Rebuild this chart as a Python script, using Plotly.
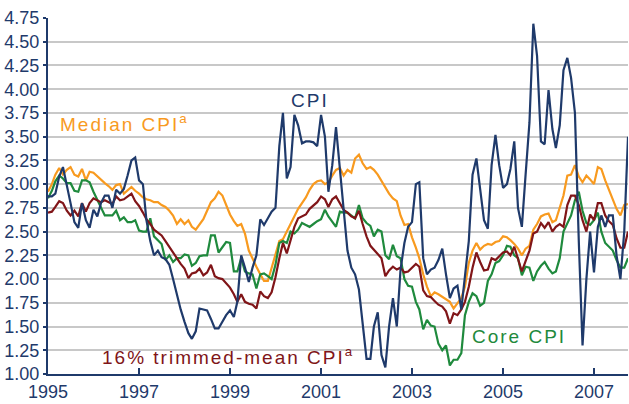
import pandas as pd
import plotly.graph_objects as go

# monthly values, Jan 1995 - Oct 2007 (12-month percent change)
months = pd.date_range('1995-01-01', '2007-10-01', freq='MS')

cpi = [2.87, 2.87, 2.90, 3.08, 3.18, 3.00, 2.80, 2.60, 2.54, 2.80, 2.62, 2.54,
       2.73, 2.66, 2.80, 2.88, 2.88, 2.75, 2.94, 2.90, 2.95, 3.09, 3.25, 3.28,
       3.04, 3.00, 2.62, 2.40, 2.25, 2.30, 2.23, 2.21, 2.15, 2.00, 1.82, 1.68,
       1.55, 1.43, 1.37, 1.45, 1.69, 1.68, 1.67, 1.58, 1.48, 1.48, 1.55, 1.62,
       1.67, 1.60, 1.76, 2.25, 2.12, 1.97, 2.12, 2.25, 2.63, 2.57, 2.64, 2.71,
       2.75, 3.40, 3.75, 3.06, 3.18, 3.73, 3.62, 3.43, 3.45, 3.45, 3.44, 3.40,
       3.73, 3.50, 2.92, 3.20, 3.60, 3.15, 2.68, 2.30, 2.12, 2.05, 1.89, 1.50,
       1.16, 1.16, 1.50, 1.65, 1.20, 1.07, 1.50, 1.80, 1.50, 2.10, 2.38, 2.55,
       2.60, 3.00, 3.02, 2.22, 2.05, 2.10, 2.12, 2.20, 2.32, 2.05, 1.80, 1.90,
       1.93, 1.68, 2.00, 2.40, 3.10, 3.27, 2.95, 2.62, 2.53, 3.20, 3.52, 3.20,
       2.96, 3.00, 3.16, 3.45, 2.75, 2.55, 3.10, 3.65, 4.69, 4.35, 3.45, 3.42,
       3.99, 3.58, 3.38, 3.62, 4.20, 4.33, 4.12, 3.75, 2.40, 1.30, 2.00, 2.50,
       2.07, 2.55, 2.67, 2.55, 2.67, 2.67, 2.25, 2.00, 2.50, 3.50]

median_cpi = [2.92, 3.00, 3.10, 3.17, 3.10, 3.15, 3.18, 3.10, 3.08, 3.16, 3.04, 3.13,
              3.12, 3.08, 3.05, 3.01, 2.98, 2.94, 2.99, 3.00, 2.90, 2.93, 2.97, 2.93,
              2.90, 2.86, 2.84, 2.83, 2.81, 2.81, 2.78, 2.76, 2.72, 2.67, 2.58, 2.63,
              2.58, 2.62, 2.55, 2.52, 2.57, 2.63, 2.72, 2.81, 2.85, 2.92, 2.88, 2.78,
              2.68, 2.61, 2.56, 2.58, 2.48, 2.30, 2.21, 2.13, 2.05, 1.98, 1.98, 2.12,
              2.27, 2.40, 2.42, 2.50, 2.59, 2.67, 2.74, 2.80, 2.86, 2.94, 3.00, 3.03,
              3.04, 3.00, 3.02, 3.09, 3.15, 3.17, 3.09, 3.15, 3.12, 3.27, 3.31, 3.22,
              3.16, 3.18, 3.15, 3.10, 3.03, 2.96, 2.90, 2.85, 2.82, 2.67, 2.57, 2.58,
              2.44, 2.33, 2.22, 2.05, 1.92, 1.82, 1.86, 1.84, 1.81, 1.79, 1.76, 1.69,
              1.74, 1.80, 1.92, 2.17, 2.30, 2.38, 2.31, 2.35, 2.37, 2.36, 2.39, 2.40,
              2.45, 2.44, 2.41, 2.37, 2.32, 2.25, 2.32, 2.35, 2.52, 2.58, 2.66, 2.68,
              2.69, 2.60, 2.62, 2.75, 2.88, 3.09, 3.10, 3.20, 3.08, 3.02, 3.09, 3.05,
              3.00, 3.18, 3.16, 3.04, 2.94, 2.82, 2.74, 2.67, 2.78, 2.79]

trimmed_mean = [2.70, 2.71, 2.76, 2.82, 2.80, 2.72, 2.67, 2.72, 2.66, 2.80, 2.71, 2.80,
                2.85, 2.83, 2.81, 2.83, 2.81, 2.79, 2.87, 2.83, 2.84, 2.87, 2.90, 2.82,
                2.77, 2.70, 2.63, 2.58, 2.52, 2.49, 2.46, 2.40, 2.34, 2.28, 2.21, 2.16,
                2.11, 2.01, 2.06, 2.07, 2.11, 2.04, 2.07, 2.15, 2.03, 2.01, 2.00, 1.96,
                1.91, 1.84, 1.76, 1.84, 1.76, 1.74, 1.73, 1.69, 1.87, 1.82, 1.80, 1.86,
                2.02, 2.22, 2.38, 2.27, 2.42, 2.55, 2.64, 2.66, 2.68, 2.74, 2.78, 2.81,
                2.87, 2.84, 2.76, 2.84, 2.87, 2.80, 2.73, 2.70, 2.66, 2.64, 2.72, 2.58,
                2.45, 2.35, 2.31, 2.27, 2.22, 2.03, 2.09, 2.13, 2.10, 2.12, 2.07, 2.08,
                2.12, 2.16, 2.13, 1.88, 1.82, 1.81, 1.77, 1.73, 1.71, 1.66, 1.53, 1.64,
                1.62, 1.68, 1.76, 1.92, 2.12, 2.28, 2.18, 2.09, 2.10, 2.22, 2.20, 2.24,
                2.28, 2.29, 2.25, 2.34, 2.22, 2.08, 2.19, 2.30, 2.48, 2.50, 2.59, 2.54,
                2.60, 2.50, 2.55, 2.58, 2.55, 2.78, 2.88, 2.88, 2.78, 2.62, 2.50, 2.68,
                2.62, 2.80, 2.80, 2.67, 2.61, 2.57, 2.43, 2.33, 2.33, 2.50]

core_cpi = [2.85, 2.93, 3.03, 3.09, 3.06, 3.01, 3.01, 2.93, 2.92, 3.04, 3.04, 3.02,
            2.92, 2.84, 2.76, 2.67, 2.67, 2.67, 2.72, 2.62, 2.65, 2.60, 2.60, 2.62,
            2.51, 2.50, 2.50, 2.64, 2.45, 2.41, 2.37, 2.20, 2.25, 2.18, 2.22, 2.22,
            2.26, 2.25, 2.14, 2.17, 2.24, 2.25, 2.25, 2.46, 2.46, 2.28, 2.33, 2.39,
            2.38, 2.08, 2.08, 2.22, 2.08, 2.06, 2.05, 1.90, 2.05, 2.06, 2.03, 2.00,
            2.15, 2.38, 2.40, 2.38, 2.50, 2.48, 2.52, 2.59, 2.57, 2.55, 2.58, 2.61,
            2.63, 2.73, 2.66, 2.60, 2.55, 2.71, 2.70, 2.70, 2.67, 2.64, 2.78, 2.64,
            2.59, 2.56, 2.45, 2.52, 2.50, 2.25, 2.21, 2.36, 2.24, 2.22, 2.00, 1.93,
            1.92, 1.76, 1.68, 1.47, 1.57, 1.51, 1.50, 1.32, 1.25, 1.30, 1.09, 1.15,
            1.15, 1.22, 1.62, 1.76, 1.85, 1.82, 1.72, 1.75, 1.98, 2.05, 2.17, 2.19,
            2.25, 2.35, 2.34, 2.25, 2.22, 2.04, 2.13, 2.12, 1.98, 2.08, 2.14, 2.18,
            2.11, 2.06, 2.08, 2.22, 2.50, 2.58, 2.67, 2.83, 2.92, 2.72, 2.59, 2.57,
            2.62, 2.70, 2.50, 2.38, 2.34, 2.30, 2.20, 2.12, 2.12, 2.22]

NAVY = '#1f3a6b'
ORANGE = '#f89a1f'
RED = '#801518'
GREEN = '#1f8a3d'
FONT = 'Liberation Sans, Arial, sans-serif'

fig = go.Figure()

# drawing order: orange, green, red, navy on top
for name, vals, color in [('Median CPI', median_cpi, ORANGE),
                          ('Core CPI', core_cpi, GREEN),
                          ('16% trimmed-mean CPI', trimmed_mean, RED),
                          ('CPI', cpi, NAVY)]:
    fig.add_trace(go.Scatter(x=months, y=vals, mode='lines', name=name,
                             line=dict(color=color, width=2.2)))

fig.update_layout(
    width=629, height=404,
    margin=dict(l=48, r=1, t=18, b=30),
    paper_bgcolor='white',
    plot_bgcolor='white',
    showlegend=False,
    font=dict(family=FONT, size=18, color=NAVY),
    xaxis=dict(
        type='date',
        range=['1995-01-01', '2007-10-01'],
        tickvals=['1995-01-01', '1997-01-01', '1999-01-01', '2001-01-01',
                  '2003-01-01', '2005-01-01', '2007-01-01'],
        ticktext=['1995', '1997', '1999', '2001', '2003', '2005', '2007'],
        ticks='inside', ticklen=6, tickwidth=1.5, tickcolor=NAVY,
        showgrid=False, zeroline=False,
        showline=True, linecolor=NAVY, linewidth=2,
        tickfont=dict(size=18, color=NAVY),
    ),
    yaxis=dict(
        range=[1.0, 4.75],
        dtick=0.25, tick0=1.0, tickformat='.2f',
        ticks='outside', ticklen=3, tickwidth=1.5, tickcolor=NAVY,
        showgrid=True, gridcolor='#c8c8c8', gridwidth=1.5,
        zeroline=False,
        showline=True, linecolor=NAVY, linewidth=2,
        tickfont=dict(size=18, color=NAVY),
    ),
    annotations=[
        dict(x='2000-10-01', y=3.88, text='CPI', showarrow=False,
             font=dict(size=19, color=NAVY, family=FONT), xanchor='center'),
        dict(x='1995-06-20', y=3.64, text='Median CPI<sup>a</sup>', showarrow=False,
             font=dict(size=19, color=ORANGE, family=FONT), xanchor='left'),
        dict(x='1996-08-05', y=1.19, text='16% trimmed-mean CPI<sup>a</sup>',
             showarrow=False, font=dict(size=19, color=RED, family=FONT),
             xanchor='left'),
        dict(x='2004-06-10', y=1.40, text='Core CPI', showarrow=False,
             font=dict(size=19, color=GREEN, family=FONT), xanchor='left'),
    ],
)

# drop the page's default body margin so the 629x404 figure fits the window,
# and widen the letter spacing of the series labels like the original
fig.write_html("out.html",
               config={'displayModeBar': False},
               post_script="document.body.style.margin='0';"
                           "document.body.style.overflow='hidden';"
                           "document.querySelectorAll('.annotation-text')"
                           ".forEach(function(t){t.style.letterSpacing='2px';});")
